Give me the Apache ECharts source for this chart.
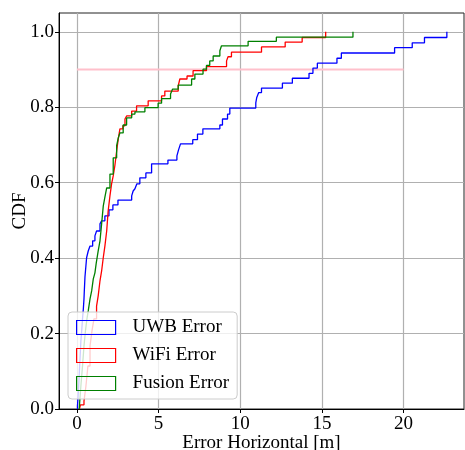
<!DOCTYPE html>
<html>
<head>
<meta charset="utf-8">
<script src="https://cdn.jsdelivr.net/npm/echarts@6/dist/echarts.min.js"></script>
<style>
  html, body { margin: 0; padding: 0; background: #fff; }
  #chart { width: 465px; height: 450px; }
</style>
</head>
<body>
<div id="chart"></div>
<script>
// [error (m), cdf] after each jump
var uwbCdf = [
  [0.03, 0.008], [0.06, 0.027], [0.09, 0.048], [0.12, 0.074], [0.15, 0.101],
  [0.18, 0.127], [0.21, 0.154], [0.24, 0.18], [0.29, 0.207], [0.34, 0.239],
  [0.39, 0.265], [0.43, 0.292], [0.45, 0.313], [0.49, 0.35], [0.59, 0.401],
  [0.69, 0.419], [0.8, 0.432], [0.96, 0.446], [1.1, 0.459], [1.2, 0.472],
  [1.41, 0.491], [1.51, 0.499], [1.71, 0.512], [1.96, 0.528], [2.2, 0.541],
  [2.51, 0.554], [3.35, 0.565], [3.44, 0.578], [3.55, 0.584], [3.67, 0.597],
  [3.85, 0.613], [4.22, 0.626], [4.57, 0.65], [5.57, 0.66], [6.12, 0.671],
  [6.22, 0.687], [6.34, 0.703], [7.09, 0.714], [7.38, 0.729], [7.71, 0.743],
  [8.75, 0.753], [8.91, 0.769], [9.22, 0.782], [9.36, 0.798], [10.95, 0.812],
  [11.01, 0.826], [11.13, 0.839], [11.3, 0.851], [12.58, 0.864], [13.19, 0.877],
  [14.21, 0.89], [14.45, 0.904], [14.72, 0.917], [15.92, 0.93], [16.19, 0.944],
  [19.45, 0.958], [20.53, 0.971], [21.28, 0.985], [22.65, 1.0]
];
var wifiCdf = [
  [0.15, 0.005], [0.21, 0.011], [0.43, 0.021], [0.55, 0.061], [0.67, 0.114],
  [0.8, 0.167], [0.92, 0.207], [1.04, 0.239], [1.2, 0.273], [1.3, 0.3],
  [1.41, 0.34], [1.51, 0.366], [1.61, 0.401], [1.71, 0.432], [1.82, 0.472],
  [1.91, 0.525], [2.02, 0.565], [2.12, 0.597], [2.22, 0.618], [2.32, 0.645],
  [2.43, 0.684], [2.53, 0.716], [2.63, 0.743], [2.81, 0.751], [2.94, 0.769],
  [3.04, 0.777], [3.35, 0.79], [3.65, 0.804], [4.36, 0.817], [5.18, 0.83],
  [5.38, 0.843], [6.2, 0.857], [6.3, 0.875], [6.74, 0.883], [7.11, 0.897],
  [7.93, 0.908], [9.16, 0.923], [9.25, 0.934], [9.46, 0.946], [11.3, 0.96],
  [12.75, 0.973], [13.79, 0.985], [15.23, 1.0]
];
var fusionCdf = [
  [0.14, 0.005], [0.17, 0.021], [0.24, 0.061], [0.34, 0.114], [0.43, 0.167],
  [0.52, 0.207], [0.61, 0.239], [0.69, 0.26], [0.8, 0.292], [0.9, 0.313],
  [1.0, 0.345], [1.1, 0.361], [1.18, 0.387], [1.3, 0.419], [1.41, 0.446],
  [1.51, 0.491], [1.61, 0.538], [1.71, 0.562], [1.82, 0.586], [2.02, 0.623],
  [2.22, 0.666], [2.43, 0.698], [2.53, 0.719], [2.63, 0.732], [2.83, 0.753],
  [3.04, 0.772], [3.35, 0.782], [3.55, 0.788], [4.16, 0.799], [4.97, 0.811],
  [5.18, 0.823], [5.73, 0.835], [5.85, 0.848], [6.2, 0.859], [7.02, 0.875],
  [7.22, 0.888], [7.72, 0.901], [7.93, 0.911], [8.13, 0.923], [8.34, 0.936],
  [8.75, 0.95], [8.85, 0.963], [10.48, 0.975], [12.21, 0.986], [16.9, 1.0]
];
var refLine = [[0, 0.9], [20, 0.9]];

var seriesNames = ["UWB Error", "WiFi Error", "Fusion Error"];
var seriesColors = ["#0000ff", "#ff0000", "#008000"];
var xTicks = [0, 5, 10, 15, 20];
var yTicks = [0, 0.2, 0.4, 0.6, 0.8, 1.0];

var FONT = "Liberation Serif";

// cdf starts from 0 at the first sample
function withStart(pts) {
  return [[pts[0][0], 0]].concat(pts);
}

var myChart = echarts.init(document.getElementById("chart"), null, { renderer: "canvas" });

var option = {
  animation: false,
  backgroundColor: "#fff",
  grid: {
    left: 59,
    top: 13,
    width: 405,
    height: 396,
    show: true,
    borderColor: "#222",
    borderWidth: 1,
    containLabel: false,
    outerBoundsMode: "none"
  },
  xAxis: {
    type: "value",
    min: -1.1,
    max: 23.7,
    splitNumber: 5,
    name: "Error Horizontal [m]",
    nameLocation: "middle",
    nameGap: 25,
    nameMoveOverlap: false,
    nameTextStyle: { fontFamily: FONT, fontSize: 19, color: "#000" },
    axisLine: { onZero: false, lineStyle: { color: "#000", width: 1 } },
    axisTick: { show: true, inside: false, length: 4, customValues: xTicks, lineStyle: { color: "#000" } },
    axisLabel: {
      customValues: xTicks,
      fontFamily: FONT,
      fontSize: 19,
      color: "#000",
      margin: 6
    },
    splitLine: { show: true, lineStyle: { color: "#b0b0b0", width: 1.2 } }
  },
  yAxis: {
    type: "value",
    min: 0,
    max: 1.05,
    splitNumber: 5,
    name: "CDF",
    nameLocation: "middle",
    nameGap: 29,
    nameMoveOverlap: false,
    nameTextStyle: { fontFamily: FONT, fontSize: 19, color: "#000" },
    axisLine: { onZero: false, lineStyle: { color: "#000", width: 1 } },
    axisTick: { show: true, inside: false, length: 4, customValues: yTicks, lineStyle: { color: "#000" } },
    axisLabel: {
      customValues: yTicks,
      fontFamily: FONT,
      fontSize: 19,
      color: "#000",
      margin: 5,
      formatter: function (v) {
        return v.toFixed(1);
      }
    },
    splitLine: { show: true, lineStyle: { color: "#b0b0b0", width: 1.2 } }
  },
  legend: {
    left: 68,
    top: 312,
    orient: "vertical",
    icon: "rect",
    itemWidth: 39,
    itemHeight: 14,
    itemGap: 9,
    padding: [6, 8, 6, 8],
    backgroundColor: "rgba(255,255,255,0.8)",
    borderColor: "#cccccc",
    borderWidth: 1,
    borderRadius: 4,
    textStyle: {
      fontFamily: FONT,
      fontSize: 19,
      color: "#000",
      lineHeight: 14,
      padding: [0, 0, 0, 12]
    },
    data: seriesNames.map(function (name, i) {
      return {
        name: name,
        itemStyle: { color: "rgba(0,0,0,0)", borderColor: seriesColors[i], borderWidth: 1.2 }
      };
    })
  },
  series: [
    {
      name: "90%",
      type: "line",
      data: refLine,
      showSymbol: false,
      silent: true,
      lineStyle: { color: "#ffc0cb", width: 2 },
      z: 1
    },
    {
      name: seriesNames[0],
      type: "line",
      step: "end",
      data: withStart(uwbCdf),
      showSymbol: false,
      color: seriesColors[0],
      lineStyle: { color: seriesColors[0], width: 1.3 }
    },
    {
      name: seriesNames[1],
      type: "line",
      step: "end",
      data: withStart(wifiCdf),
      showSymbol: false,
      color: seriesColors[1],
      lineStyle: { color: seriesColors[1], width: 1.3 }
    },
    {
      name: seriesNames[2],
      type: "line",
      step: "end",
      data: withStart(fusionCdf),
      showSymbol: false,
      color: seriesColors[2],
      lineStyle: { color: seriesColors[2], width: 1.3 }
    }
  ]
};

myChart.setOption(option);
</script>
</body>
</html>
